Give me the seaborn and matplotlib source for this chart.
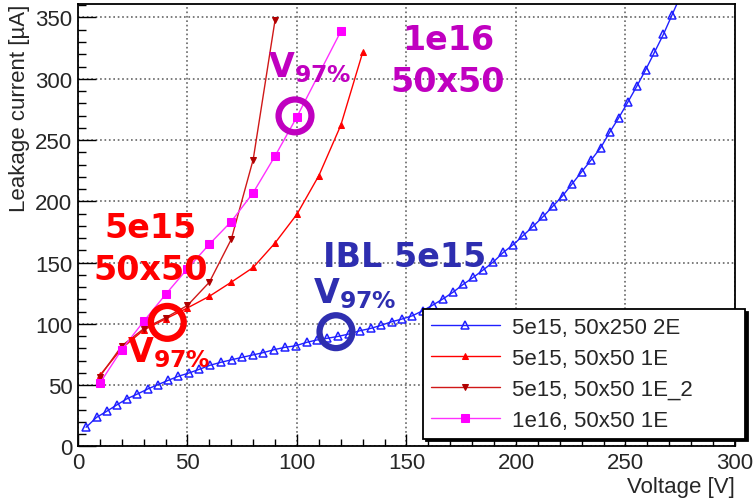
"""Leakage current vs bias voltage for irradiated sensors."""
import matplotlib
matplotlib.use("Agg")
import matplotlib.pyplot as plt
from matplotlib.ticker import MultipleLocator
import seaborn as sns
import pandas as pd

# IBL 5e15, 50x250 2E
ibl_v = [3.7, 8.5, 13.1, 17.7, 22.2, 27.1, 31.8, 36.4, 41.2, 45.8, 50.7, 55.4,
         60.3, 65.2, 70.2, 75.0, 79.8, 84.6, 89.5, 94.4, 99.4, 104.4, 109.0,
         113.8, 118.9, 123.7, 128.8, 133.7, 138.4, 143.2, 147.9, 152.7, 157.4,
         162.0, 166.8, 171.4, 175.9, 180.5, 185.1, 189.6, 194.2, 198.8, 203.3,
         207.9, 212.5, 217.0, 221.3, 225.7, 230.0, 234.4, 238.7, 242.8, 246.9,
         251.0, 255.1, 259.2, 263.2, 267.3, 271.2, 275.2]
ibl_i = [15.6, 23.7, 28.6, 33.8, 38.7, 42.7, 46.8, 50.3, 53.9, 57.2, 59.9, 62.9,
         66.2, 68.6, 70.7, 72.7, 74.6, 76.5, 78.9, 80.8, 82.1, 84.9, 86.8,
         88.2, 89.8, 91.7, 94.4, 96.3, 98.8, 101.7, 103.9, 106.6, 110.7,
         115.3, 120.5, 126.0, 132.2, 137.9, 144.1, 150.4, 158.3, 164.7, 172.1,
         179.7, 187.7, 196.3, 204.5, 214.4, 224.1, 233.9, 243.8, 256.4, 268.1,
         280.7, 293.7, 307.3, 321.5, 336.2, 351.9, 368.0]

# 5e15, 50x50 1E
r1_v = [10, 20, 30, 40, 50, 60, 70, 80, 90, 100, 110, 120, 130]
r1_i = [58, 80, 95, 104, 113, 122.5, 134, 146, 166, 189.5, 221, 262, 321.5]

# 5e15, 50x50 1E_2
r2_v = [10, 20, 30, 40, 50, 60, 70, 80, 90]
r2_i = [57, 82, 96, 105, 115, 134, 169, 234, 348]

# 1e16, 50x50 1E
p_v = [10, 20, 30, 40, 50, 60, 70, 80, 90, 100, 120]
p_i = [51.5, 79, 102, 124, 145, 165, 183.5, 207, 237, 269, 338.6]

labels = ["5e15, 50x250 2E", "5e15, 50x50 1E", "5e15, 50x50 1E_2", "1e16, 50x50 1E"]

# V97% markers (voltage, current)
v97_v = [99.1, 40.8, 117.8]
v97_i = [269.7, 101.2, 93.6]
v97_col = ["#c000c0", "#ff0000", "#2e2eb0"]

sns.set_theme(style="white")
plt.rcParams["font.family"] = ["Liberation Sans", "DejaVu Sans"]
plt.rcParams["mathtext.fontset"] = "dejavusans"

fig = plt.figure(figsize=(7.54, 5.02), dpi=100)
ax = fig.add_axes([0.1034, 0.1088, 0.8714, 0.8812])

sns.lineplot(data=pd.DataFrame({"V": ibl_v, "I": ibl_i}), x="V", y="I", ax=ax,
             color="#2020ff", lw=1.0, marker="^", ms=6, mfc="none",
             mec="#2020ff", mew=1.1, label=labels[0], errorbar=None, sort=False)
sns.lineplot(data=pd.DataFrame({"V": r1_v, "I": r1_i}), x="V", y="I", ax=ax,
             color="#ff0000", lw=1.0, marker="^", ms=5, mfc="#ff0000",
             mec="#ff0000", label=labels[1], errorbar=None, sort=False)
sns.lineplot(data=pd.DataFrame({"V": r2_v, "I": r2_i}), x="V", y="I", ax=ax,
             color="#d01818", lw=1.0, marker="v", ms=5, mfc="#b00000",
             mec="#b00000", label=labels[2], errorbar=None, sort=False)
sns.lineplot(data=pd.DataFrame({"V": p_v, "I": p_i}), x="V", y="I", ax=ax,
             color="#ff30ff", lw=1.0, marker="s", ms=5.5, mfc="#ff00ff",
             mec="#ff00ff", label=labels[3], errorbar=None, sort=False)

ax.scatter(v97_v, v97_i, s=560, facecolors="none", edgecolors=v97_col,
           linewidths=4.5, zorder=5)

ax.set_xlim(0, 300)
ax.set_ylim(0, 361)
ax.xaxis.set_major_locator(MultipleLocator(50))
ax.xaxis.set_minor_locator(MultipleLocator(10))
ax.yaxis.set_major_locator(MultipleLocator(50))
ax.yaxis.set_minor_locator(MultipleLocator(10))
ax.tick_params(which="both", direction="in", bottom=True, left=True,
               labelsize=16, color="black")
ax.tick_params(axis="x", which="major", length=9, width=1, pad=4)
ax.tick_params(axis="x", which="minor", length=5, width=1)
ax.tick_params(axis="y", which="major", length=13, width=1, pad=4)
ax.tick_params(axis="y", which="minor", length=6, width=1)
ax.grid(True, which="major", ls=":", lw=1.2, color="#666666")
for sp in ax.spines.values():
    sp.set_color("black")
    sp.set_linewidth(1.3)

ax.set_xlabel("Voltage [V]", fontsize=16, loc="right", labelpad=2)
ax.set_ylabel("Leakage current [µA]", fontsize=16, loc="top", labelpad=4)

bold = dict(fontsize=24, fontweight="bold", family="DejaVu Sans")
ax.text(169, 315, "1e16\n50x50", color="#c000c0", ha="center", va="center",
        linespacing=1.35, **bold)
ax.text(86.8, 302, r"$\mathbf{V_{97\%}}$", color="#c000c0", ha="left",
        va="baseline", fontsize=24)
ax.text(33.3, 161.5, "5e15\n50x50", color="#ff0000", ha="center", va="center",
        linespacing=1.35, **bold)
ax.text(22.4, 69.7, r"$\mathbf{V_{97\%}}$", color="#ff0000", ha="left",
        va="baseline", fontsize=24)
ax.text(149.3, 147.1, "IBL 5e15", color="#2e2eb0", ha="center", va="baseline",
        **bold)
ax.text(107.3, 117.8, r"$\mathbf{V_{97\%}}$", color="#2e2eb0", ha="left",
        va="baseline", fontsize=24)

leg = ax.legend(loc="upper left",
                bbox_to_anchor=(423 / 754, 1 - 437 / 502, 322 / 754, 127 / 502),
                bbox_transform=fig.transFigure, mode="expand", borderaxespad=0,
                fontsize=16, frameon=True, fancybox=False,
                shadow={"color": "black", "alpha": 1},
                handlelength=3.1, handletextpad=0.55, borderpad=0.35,
                labelspacing=0.45, numpoints=1)
leg.get_frame().set_edgecolor("black")
leg.get_frame().set_linewidth(1.3)
leg.set_zorder(10)

fig.savefig("out.png", dpi=100)
